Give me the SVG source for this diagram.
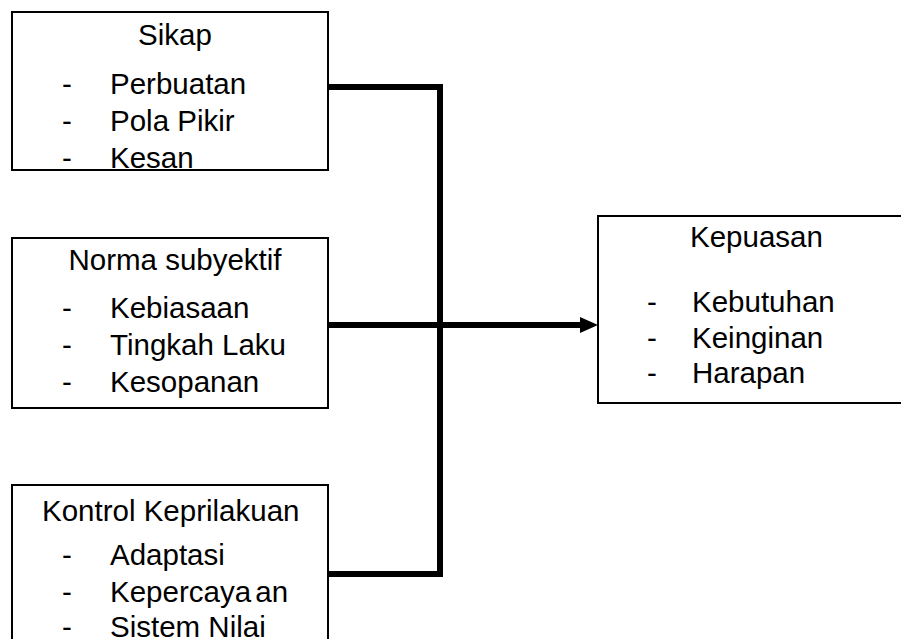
<svg xmlns="http://www.w3.org/2000/svg" width="901" height="639" viewBox="0 0 901 639">
  <style>
    .box { fill: #ffffff; stroke: #000000; stroke-width: 2; }
    .t { font-family: "Liberation Sans", Arial, sans-serif; font-size: 29.5px; fill: #000000; }
    .mid { text-anchor: middle; }
    .wire { fill: none; stroke: #000000; stroke-width: 6; stroke-linejoin: miter; }
  </style>

  <g id="sikap">
    <rect class="box" x="12" y="12" width="316" height="158"/>
    <text class="t mid" x="175" y="45">Sikap</text>
    <text class="t" x="62" y="94">-</text><text class="t" x="110" y="94">Perbuatan</text>
    <text class="t" x="62" y="131">-</text><text class="t" x="110" y="131">Pola Pikir</text>
    <text class="t" x="62" y="168">-</text><text class="t" x="110" y="168">Kesan</text>
  </g>

  <g id="norma">
    <rect class="box" x="12" y="238" width="316" height="170"/>
    <text class="t mid" x="175" y="270">Norma subyektif</text>
    <text class="t" x="62" y="318">-</text><text class="t" x="110" y="318">Kebiasaan</text>
    <text class="t" x="62" y="355">-</text><text class="t" x="110" y="355">Tingkah Laku</text>
    <text class="t" x="62" y="392">-</text><text class="t" x="110" y="392">Kesopanan</text>
  </g>

  <g id="kontrol">
    <rect class="box" x="12" y="485" width="316" height="170"/>
    <text class="t" x="42" y="521">Kontrol Keprilakuan</text>
    <text class="t" x="62" y="565">-</text><text class="t" x="110" y="565">Adaptasi</text>
    <text class="t" x="62" y="602">-</text><text class="t" x="110" y="602" word-spacing="-4">Kepercaya an</text>
    <text class="t" x="62" y="637">-</text><text class="t" x="110" y="637">Sistem Nilai</text>
  </g>

  <g id="kepuasan">
    <rect class="box" x="598" y="216" width="320" height="187"/>
    <text class="t" x="690" y="247">Kepuasan</text>
    <text class="t" x="647" y="312">-</text><text class="t" x="692" y="312">Kebutuhan</text>
    <text class="t" x="647" y="348">-</text><text class="t" x="692" y="348">Keinginan</text>
    <text class="t" x="647" y="383">-</text><text class="t" x="692" y="383">Harapan</text>
  </g>

  <g id="connectors">
    <path class="wire" d="M327 87 H440 V574 H327"/>
    <path class="wire" d="M328 325 H582"/>
    <polygon points="580,317 598,325 580,333" fill="#000000"/>
  </g>
</svg>
